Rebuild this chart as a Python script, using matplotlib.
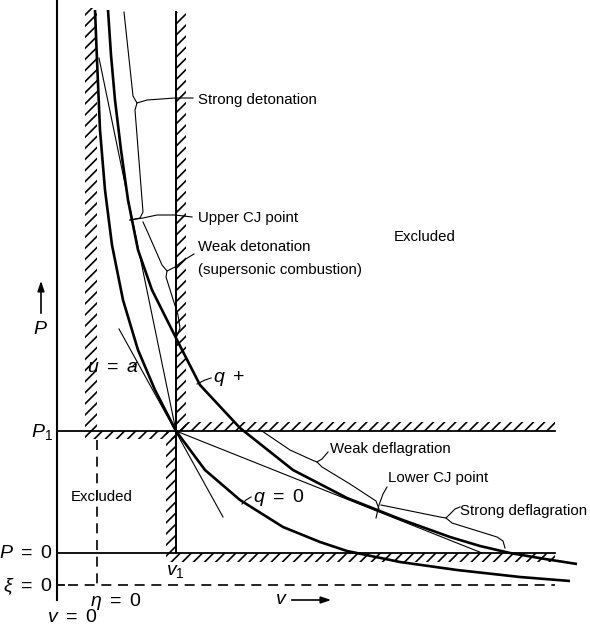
import matplotlib
matplotlib.use("Agg")
import matplotlib.pyplot as plt
from matplotlib.patches import Rectangle

plt.rcParams['font.family'] = ['Liberation Sans', 'DejaVu Sans']
plt.rcParams['mathtext.fontset'] = 'custom'
plt.rcParams['mathtext.it'] = 'Liberation Sans:italic'
plt.rcParams['mathtext.rm'] = 'Liberation Sans'
plt.rcParams['mathtext.sf'] = 'Liberation Sans'
plt.rcParams['hatch.linewidth'] = 1.2

# diagram coordinates (v to the right, P downward in picture units)
v_axis = 57        # v = 0
v_eta = 97         # eta = 0
v_1 = 176          # v1
P_1 = 431          # P1
P_0 = 553          # P = 0
P_xi = 585         # xi = 0
v_end = 555        # right end of the reference lines
top = 10

# Hugoniot curves
q0_v = [95, 97, 100, 105, 112, 123, 138, 155, 176, 205, 240, 283, 320, 347, 400, 457, 520, 570]
q0_P = [10, 60, 130, 190, 245, 300, 350, 390, 431, 470, 500, 527, 542, 551, 562, 570, 577, 581]

qp_v = [108, 111, 115, 121, 128, 138, 152, 177, 200, 240, 293, 347, 400, 450, 480, 510, 545, 577]
qp_P = [10, 55, 100, 150, 200, 250, 290, 340, 385, 428, 470, 498, 519, 537, 546, 553, 559, 564]

# Rayleigh lines and acoustic line
ray_up_v = [99, 176]
ray_up_P = [58, 431]
ray_lo_v = [176, 482]
ray_lo_P = [431, 553]
ua_v = [119, 223]
ua_P = [329, 517]

# braces (v, P)
brace_sdet = [(124, 12), (133, 96), (137, 103), (135, 110), (143, 212), (140, 218), (130, 220)]
brace_wdet = [(143, 222), (148, 233), (162, 265), (167, 271), (166, 277), (178, 315), (180, 328), (177, 336)]
brace_wdef = [(262, 431), (290, 450), (312, 460), (317, 462), (322, 467), (350, 484), (376, 501), (379, 509)]
brace_sdef = [(381, 505), (440, 517), (446, 518), (452, 523), (497, 537), (503, 541), (505, 548)]

# leaders (v, P)
lead_sdet = [(137, 103), (147, 100), (175, 98), (193, 98)]
lead_ucj = [(130, 220), (143, 218), (157, 215), (175, 215), (192, 217)]
lead_wdet = [(167, 271), (175, 267), (184, 260), (194, 254)]
lead_wdef = [(317, 462), (322, 459), (328, 452)]
lead_lcj = [(376, 518), (379, 505), (383, 494), (387, 487)]
lead_sdef = [(446, 518), (450, 514), (455, 509), (460, 507)]
lead_qp = [(197, 384), (205, 380), (211, 378)]
lead_q0 = [(242, 504), (246, 500), (251, 497)]
lead_ua = [(132, 367), (137, 362)]

fig = plt.figure(figsize=(5.9, 6.27), dpi=100)
ax = fig.add_axes([0, 0, 1, 1])
ax.set_xlim(0, 590)
ax.set_ylim(627, 0)
ax.axis('off')

thick = 1.9
thin = 0.8
k = 'black'

# hatched walls
hatches = [(85, top - 2, 12, P_1 - top + 2),
           (85, P_1, v_1 - 85, 8),
           (v_1, top + 2, 10, P_1 - top - 2),
           (v_1, P_1 - 9, v_end - v_1, 9),
           (v_1 - 10, P_1, 10, P_0 - P_1),
           (v_1 - 10, P_0, v_end - v_1 + 10, 9)]
for x0, y0, w, h in hatches:
    ax.add_patch(Rectangle((x0, y0), w, h, fill=False, hatch='///', lw=0, edgecolor=k))

# axis and reference lines
ax.plot([v_axis, v_axis], [0, 600], color=k, lw=1.5)
ax.plot([v_axis, v_end], [P_1, P_1], color=k, lw=1.3)
ax.plot([v_axis, v_end], [P_0, P_0], color=k, lw=1.3)
ax.plot([v_1, v_1], [top + 2, P_0], color=k, lw=1.4)
ax.plot([v_axis, 64], [P_xi, P_xi], color=k, lw=1.3)
ax.plot([68, v_end], [P_xi, P_xi], color=k, lw=1.2, ls=(0, (6, 4)))
ax.plot([v_eta, v_eta], [P_1 + 9, P_xi], color=k, lw=1.2, ls=(0, (6, 4)))

# curves
ax.plot(q0_v, q0_P, color=k, lw=thick, solid_capstyle='butt')
ax.plot(qp_v, qp_P, color=k, lw=thick, solid_capstyle='butt')
ax.plot(ray_up_v, ray_up_P, color=k, lw=thin)
ax.plot(ray_lo_v, ray_lo_P, color=k, lw=thin)
ax.plot(ua_v, ua_P, color=k, lw=thin)

for pts in [brace_sdet, brace_wdet, brace_wdef, brace_sdef,
            lead_sdet, lead_ucj, lead_wdet, lead_wdef, lead_lcj, lead_sdef,
            lead_qp, lead_q0, lead_ua]:
    ax.plot([p[0] for p in pts], [p[1] for p in pts], color=k, lw=thin)

# arrows
ax.annotate('', xy=(41, 278), xytext=(41, 316),
            arrowprops=dict(arrowstyle='-|>,head_length=0.6,head_width=0.2', color=k, lw=1.2))
ax.annotate('', xy=(334, 600), xytext=(289, 600),
            arrowprops=dict(arrowstyle='-|>,head_length=0.6,head_width=0.2', color=k, lw=1.2))

fs = 10.8
lab = dict(fontsize=fs, va='center', ha='left')
ax.text(198, 100, 'Strong detonation', **lab)
ax.text(198, 218, 'Upper CJ point', **lab)
ax.text(198, 247, 'Weak detonation', **lab)
ax.text(198, 270, '(supersonic combustion)', **lab)
ax.text(425, 237, 'Excluded', fontsize=fs, ha='center', va='center')
ax.text(102, 497, 'Excluded', fontsize=fs, ha='center', va='center')
ax.text(330, 449, 'Weak deflagration', **lab)
ax.text(388, 478, 'Lower CJ point', **lab)
ax.text(460, 511, 'Strong deflagration', **lab)

ms = 14
ax.text(87, 368, r'$u\ =\ a$', fontsize=ms, ha='left', va='center')
ax.text(213, 379, r'$q\ +$', fontsize=ms, ha='left', va='center')
ax.text(253, 498, r'$q\ =\ 0$', fontsize=ms, ha='left', va='center')
ax.text(40, 330, r'$P$', fontsize=ms, ha='center', va='center')
ax.text(53, 432, r'$P_1$', fontsize=ms, ha='right', va='center')
ax.text(53, 553, r'$P\ =\ 0$', fontsize=ms, ha='right', va='center')
ax.text(53, 587, r'$\xi\ =\ 0$', fontsize=ms, ha='right', va='center')
ax.text(116, 602, r'$\eta\ =\ 0$', fontsize=ms, ha='center', va='center')
ax.text(72, 617, r'$v\ =\ 0$', fontsize=ms, ha='center', va='center')
ax.text(175, 571, r'$v_1$', fontsize=ms, ha='center', va='center')
ax.text(281, 599, r'$v$', fontsize=ms, ha='center', va='center')

fig.savefig('out.png', dpi=100)
